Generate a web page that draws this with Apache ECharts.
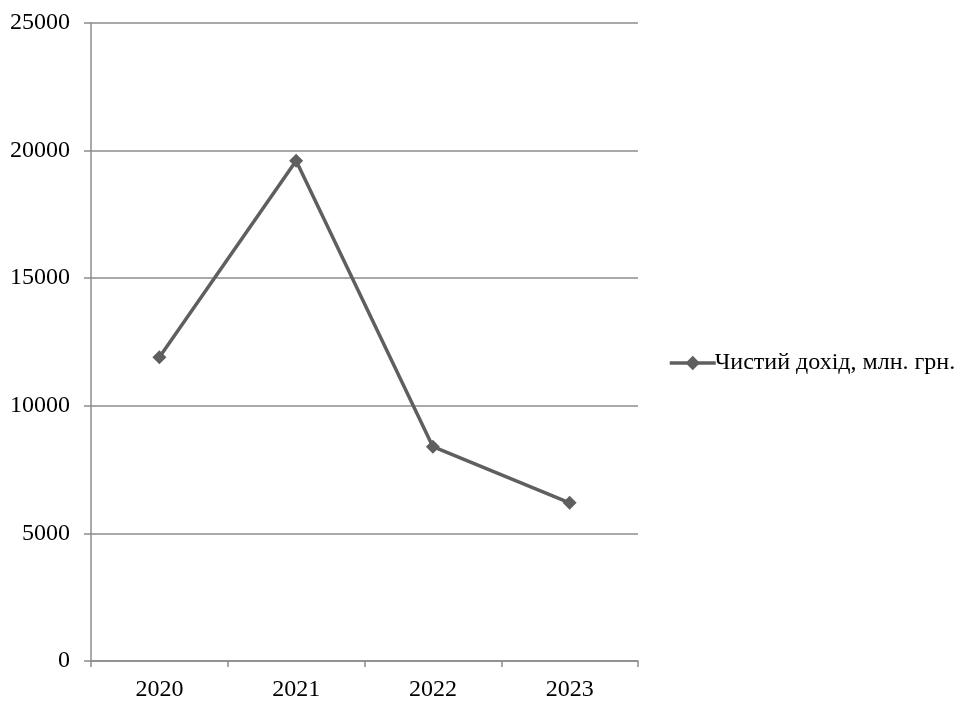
<!DOCTYPE html>
<html><head><meta charset="utf-8">
<script src="https://cdn.jsdelivr.net/npm/echarts@6/dist/echarts.min.js"></script>
<style>html,body{margin:0;padding:0;background:#fff}#c{width:960px;height:702px}</style>
</head><body><div id="c"></div>
<script>
const categories = ['2020', '2021', '2022', '2023'];
const seriesName = 'Чистий дохід, млн. грн.';
const values = [11900, 19600, 8400, 6200];
const yTicks = [0, 5000, 10000, 15000, 20000, 25000];

const font = '"Liberation Serif", "Times New Roman", serif';
const chart = echarts.init(document.getElementById('c'));
chart.setOption({
  animation: false,
  backgroundColor: '#fff',
  grid: { left: 91, right: 322, top: 23, bottom: 37, containLabel: false },
  legend: {
    data: [seriesName],
    left: 663, top: 346,
    itemWidth: 46, itemHeight: 18,
    itemGap: 0,
    lineStyle: { width: 3.5, color: '#5f5f5f' },
    itemStyle: { color: '#5f5f5f' },
    textStyle: { fontFamily: font, fontSize: 24, color: '#000', padding: [0,0,0,-6] }
  },
  xAxis: {
    type: 'category', data: categories, boundaryGap: true,
    axisLine: { lineStyle: { color: '#8c8c8c', width: 1.5 } },
    axisTick: { show: true, length: 6, lineStyle: { color: '#8c8c8c', width: 1.5 } },
    axisLabel: { fontFamily: font, fontSize: 24, color: '#000', margin: 17 }
  },
  yAxis: {
    type: 'value', min: yTicks[0], max: yTicks[yTicks.length-1], interval: 5000,
    axisLine: { show: true, lineStyle: { color: '#8c8c8c', width: 1.5 } },
    axisTick: { show: true, length: 7, lineStyle: { color: '#8c8c8c', width: 1.5 } },
    axisLabel: { fontFamily: font, fontSize: 24, color: '#000', margin: 21, formatter: v => String(v) },
    splitLine: { show: true, lineStyle: { color: '#8c8c8c', width: 1.5 } }
  },
  series: [{
    name: seriesName, type: 'line', data: values,
    symbol: 'diamond', symbolSize: 14,
    lineStyle: { color: '#5f5f5f', width: 3.5 },
    itemStyle: { color: '#5f5f5f' }
  }]
});
</script></body></html>
